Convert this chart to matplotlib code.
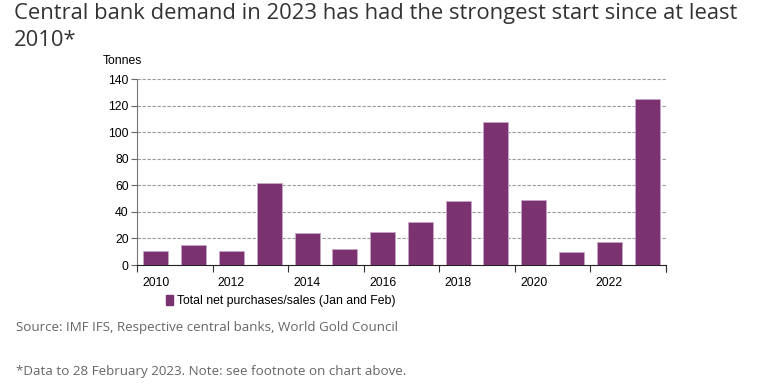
import numpy as np
import matplotlib.pyplot as plt
from matplotlib.patches import Patch

# Jan+Feb central bank net purchases (tonnes)
years = [2010, 2011, 2012, 2013, 2014, 2015, 2016,
         2017, 2018, 2019, 2020, 2021, 2022, 2023]
tonnes = [10.5, 14.8, 10.5, 61.6, 23.9, 12.1, 25.1,
          32.4, 48.2, 107.8, 48.7, 9.8, 17.6, 125.1]
yticks = [0, 20, 40, 60, 80, 100, 120, 140]

bar_color = '#7b3270'
small = {'family': 'Liberation Sans', 'size': 8.8}

fig = plt.figure(figsize=(7.71, 3.88), dpi=100)
ax = fig.add_axes([137 / 771, 1 - 265 / 388, 529 / 771, 186 / 388])

x = np.arange(len(years))
ax.bar(x, tonnes, width=0.66, color=bar_color, edgecolor='#c9a6c3', linewidth=0.6, zorder=3)

ax.set_xlim(-0.5, len(years) - 0.5)
ax.set_ylim(0, 140)
ax.set_yticks(yticks)
ax.set_yticklabels([str(v) for v in yticks], **small)
ax.yaxis.grid(True, linestyle=(0, (3, 1.5)), color='#999999', linewidth=0.8, zorder=0)

# labels every other year, tick marks at category edges
ax.set_xticks(x[::2])
ax.set_xticklabels([str(y) for y in years[::2]], **small)
ax.tick_params(axis='x', which='major', length=0, pad=9)
ax.set_xticks(list(np.arange(-0.5, len(years), 2)) + [len(years) - 0.5], minor=True)
ax.tick_params(axis='x', which='minor', length=5, width=0.8, direction='out', color='#333333')
ax.tick_params(axis='y', length=4, width=0.8, color='#666666', pad=2)

for side in ['top', 'right']:
    ax.spines[side].set_visible(False)
ax.spines['left'].set_color('#777777')
ax.spines['bottom'].set_color('#222222')

fig.text(103 / 771, 1 - 61 / 388, 'Tonnes', ha='left', va='center', **small)

ax.legend(handles=[Patch(color=bar_color, label='Total net purchases/sales (Jan and Feb)')],
          loc='upper left', bbox_to_anchor=(0.045, -0.135), frameon=False,
          prop=small, handlelength=0.6, handleheight=0.9, handletextpad=0.3, borderaxespad=0)

fig.text(14 / 771, 1 - 3 / 388, 'Central bank demand in 2023 has had the strongest start since at least\n2010*',
         fontsize=15.8, family='Open Sans', color='#333333', va='top', linespacing=1.38)
fig.text(16 / 771, 1 - 328 / 388, 'Source: IMF IFS, Respective central banks, World Gold Council',
         fontsize=9.6, family='Open Sans', color='#666666', va='center')
fig.text(16 / 771, 1 - 372 / 388, '*Data to 28 February 2023. Note: see footnote on chart above.',
         fontsize=9.6, family='Open Sans', color='#666666', va='center')

fig.savefig('out.png', dpi=100)
